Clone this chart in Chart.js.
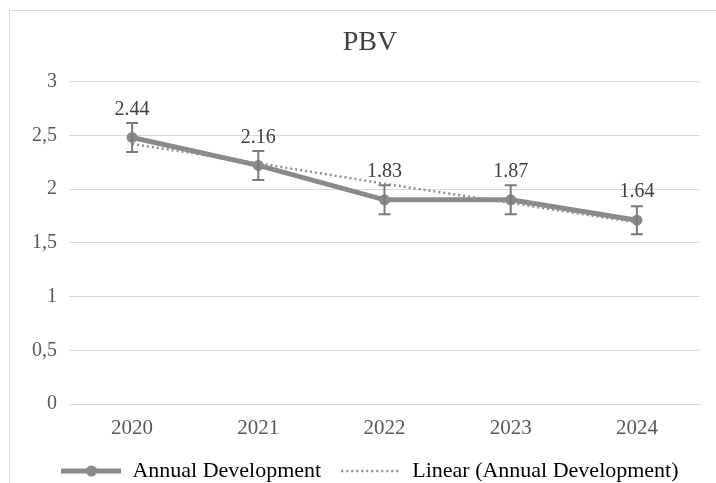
<!DOCTYPE html>
<html lang="en">
<head>
<meta charset="UTF-8">
<title>PBV</title>
<script src="https://cdn.jsdelivr.net/npm/chart.js"></script>
<style>
  body { margin: 0; background: #fff; }
  #wrap { position: relative; width: 716px; height: 483px; overflow: hidden; }
  #frame { position: absolute; left: 9px; top: 10px; width: 800px; height: 600px; border: 1px solid #d9d9d9; }
  #pbvChart { position: absolute; left: 0; top: 0; }
</style>
</head>
<body>
<div id="wrap">
  <div id="frame"></div>
  <canvas id="pbvChart" width="716" height="483"></canvas>
</div>
<script>
// values
const years = ['2020', '2021', '2022', '2023', '2024'];
const pbv = [2.48, 2.22, 1.90, 1.90, 1.71];
const pbvLabels = ['2.44', '2.16', '1.83', '1.87', '1.64'];
const errorSize = [0.135, 0.135, 0.135, 0.135, 0.13];
const trend = [2.42, 2.24, 2.05, 1.87, 1.69];
const yTicks = [0, 0.5, 1, 1.5, 2, 2.5, 3];

const serif = '"Liberation Serif", "Times New Roman", serif';
const lineGray = '#8a8a8a';
const dotGray = '#8f8f8f';

// little legend markers
function markerLine() {
    const c = document.createElement('canvas');
    c.width = 60; c.height = 14;
    const g = c.getContext('2d');
    g.strokeStyle = lineGray; g.lineWidth = 5;
    g.beginPath(); g.moveTo(0, 7); g.lineTo(60, 7); g.stroke();
    g.fillStyle = lineGray;
    g.beginPath(); g.arc(30, 7, 5.5, 0, Math.PI * 2); g.fill();
    return c;
}
function markerDots() {
    const c = document.createElement('canvas');
    c.width = 60; c.height = 14;
    const g = c.getContext('2d');
    g.strokeStyle = dotGray; g.lineWidth = 2.5;
    g.setLineDash([2, 3]);
    g.beginPath(); g.moveTo(0, 7); g.lineTo(60, 7); g.stroke();
    return c;
}

// error bars and value labels
const extras = {
    id: 'extras',
    afterDatasetsDraw(chart) {
        const ctx = chart.ctx;
        const x = chart.scales.x, y = chart.scales.y;
        ctx.save();
        ctx.strokeStyle = '#7a7a7a';
        ctx.lineWidth = 2;
        pbv.forEach((v, i) => {
            const px = x.getPixelForValue(i);
            const top = y.getPixelForValue(v + errorSize[i]);
            const bot = y.getPixelForValue(v - errorSize[i]);
            ctx.beginPath();
            ctx.moveTo(px, top); ctx.lineTo(px, bot);
            ctx.moveTo(px - 6, top); ctx.lineTo(px + 6, top);
            ctx.moveTo(px - 6, bot); ctx.lineTo(px + 6, bot);
            ctx.stroke();
        });
        ctx.fillStyle = '#404040';
        ctx.font = '20px ' + serif;
        ctx.textAlign = 'center';
        ctx.textBaseline = 'middle';
        pbv.forEach((v, i) => {
            ctx.fillText(pbvLabels[i], x.getPixelForValue(i), y.getPixelForValue(v) - 28);
        });
        ctx.restore();
    }
};

// legend sits lower than chart.js would put it
const legendFit = {
    id: 'legendFit',
    beforeInit(chart) {
        const fit = chart.legend.fit;
        chart.legend.fit = function () {
            fit.call(this);
            this.height = 43;
        };
    }
};

new Chart(document.getElementById('pbvChart'), {
    type: 'line',
    data: {
        labels: years,
        datasets: [
            {
                label: 'Annual Development',
                data: pbv,
                borderColor: lineGray,
                backgroundColor: lineGray,
                borderWidth: 5,
                pointRadius: 5.5,
                pointBorderWidth: 0,
                tension: 0,
                order: 1
            },
            {
                label: 'Linear (Annual Development)',
                data: trend,
                borderColor: dotGray,
                borderWidth: 2.5,
                borderDash: [2, 3],
                pointRadius: 0,
                tension: 0,
                order: 0
            }
        ]
    },
    options: {
        responsive: false,
        animation: false,
        layout: { padding: { left: 26, right: 2, top: 0, bottom: 0 } },
        plugins: {
            title: {
                display: true,
                text: 'PBV',
                color: '#404040',
                font: { family: serif, size: 28, weight: 'normal' },
                padding: { top: 26, bottom: 22 }
            },
            legend: {
                position: 'bottom',
                labels: {
                    usePointStyle: true,
                    pointStyleWidth: 60,
                    padding: 20,
                    color: '#404040',
                    font: { family: serif, size: 22 },
                    generateLabels: () => [
                        { text: 'Annual Development', pointStyle: markerLine(), lineWidth: 0, datasetIndex: 0, hidden: false },
                        { text: 'Linear (Annual Development)', pointStyle: markerDots(), lineWidth: 0, datasetIndex: 1, hidden: false }
                    ]
                }
            },
            tooltip: { enabled: false }
        },
        scales: {
            x: {
                offset: true,
                afterFit(scale) { scale.height = 36; },
                grid: { display: false, offset: true, drawTicks: false },
                border: { color: '#d9d9d9' },
                ticks: { color: '#595959', padding: 12, font: { family: serif, size: 21 } }
            },
            y: {
                min: 0,
                max: 3,
                afterFit(scale) { scale.width = 43; },
                afterBuildTicks(scale) { scale.ticks = yTicks.map(v => ({ value: v })); },
                grid: { color: '#d9d9d9', drawTicks: false },
                border: { display: false },
                ticks: {
                    color: '#595959',
                    padding: 12,
                    font: { family: serif, size: 20 },
                    callback: v => String(v).replace('.', ',')
                }
            },
            // empty strip on the right so the title sits where it does in the picture
            y2: {
                position: 'right',
                display: true,
                afterFit(scale) { scale.width = 14; },
                grid: { display: false },
                border: { display: false },
                ticks: { display: false }
            }
        }
    },
    plugins: [extras, legendFit]
});
</script>
</body>
</html>
